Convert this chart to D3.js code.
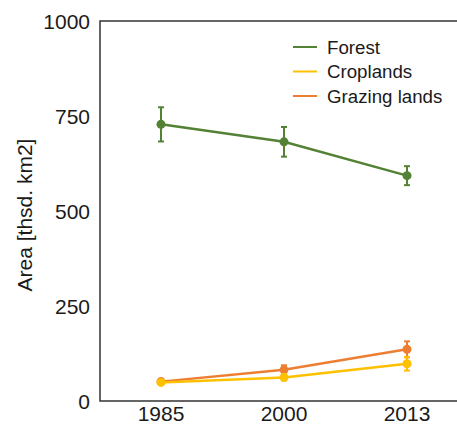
<!DOCTYPE html>
<html><head><meta charset="utf-8">
<script src="https://cdn.jsdelivr.net/npm/d3@7"></script>
<style>body{margin:0;background:#fff}svg{display:block}</style>
</head><body>
<script>
const years = ["1985", "2000", "2013"];
const seriesNames = ["Forest", "Croplands", "Grazing lands"];
const forest = [728, 682, 593];
const forestErr = [45, 39, 25];
const croplands = [49, 62, 98];
const croplandsErr = [4, 8, 18];
const grazing = [51, 82, 136];
const grazingErr = [4, 12, 21];
const yTicks = [0, 250, 500, 750, 1000];
const colors = ["#548235", "#FFC000", "#ED7D31"];

const W = 457, H = 425;
const svg = d3.select("body").append("svg").attr("width", W).attr("height", H);
const font = "Liberation Sans, Arial, sans-serif";

const x = d3.scalePoint().domain(years).range([161, 407]);
const y = d3.scaleLinear().domain([0, 1000]).range([401, 21]);

// frame (cropped on right)
svg.append("path")
  .attr("d", `M${W + 10},${y(1000)}H100V${y(0)}H${W + 10}`)
  .attr("fill", "none").attr("stroke", "#333").attr("stroke-width", 1.5);

// y tick labels
svg.append("g").selectAll("text").data(yTicks).join("text")
  .attr("x", 90).attr("y", d => y(d)).attr("dy", "0.36em")
  .attr("text-anchor", "end").attr("font-family", font).attr("font-size", 21)
  .attr("fill", "#1a1a1a").text(d => d);

// x tick labels
svg.append("g").selectAll("text").data(years).join("text")
  .attr("x", d => x(d)).attr("y", 421)
  .attr("text-anchor", "middle").attr("font-family", font).attr("font-size", 21)
  .attr("fill", "#1a1a1a").text(d => d);

// y axis title
svg.append("text")
  .attr("transform", `translate(32,${(y(0)+y(1000))/2 + 4}) rotate(-90)`)
  .attr("text-anchor", "middle").attr("font-family", font).attr("font-size", 21)
  .attr("fill", "#1a1a1a").text("Area [thsd. km2]");

const series = [
  {name: seriesNames[0], vals: forest, err: forestErr, color: colors[0]},
  {name: seriesNames[2], vals: grazing, err: grazingErr, color: colors[2]},
  {name: seriesNames[1], vals: croplands, err: croplandsErr, color: colors[1]}
];

const line = d3.line().x((d, i) => x(years[i])).y(d => y(d));

series.forEach(s => {
  const g = svg.append("g");
  s.vals.forEach((v, i) => {
    const cx = x(years[i]);
    const y1 = y(v + s.err[i]), y2 = y(v - s.err[i]);
    g.append("line").attr("x1", cx).attr("x2", cx).attr("y1", y1).attr("y2", y2)
      .attr("stroke", s.color).attr("stroke-width", 2);
    [y1, y2].forEach(yy => g.append("line").attr("x1", cx - 3).attr("x2", cx + 3)
      .attr("y1", yy).attr("y2", yy).attr("stroke", s.color).attr("stroke-width", 2));
  });
  g.append("path").attr("d", line(s.vals)).attr("fill", "none")
    .attr("stroke", s.color).attr("stroke-width", 2.5);
  g.selectAll("circle").data(s.vals).join("circle")
    .attr("cx", (d, i) => x(years[i])).attr("cy", d => y(d)).attr("r", 4.5)
    .attr("fill", s.color);
});

// legend
const leg = svg.append("g");
seriesNames.forEach((n, i) => {
  const ly = 47 + i * 24.5;
  leg.append("line").attr("x1", 293).attr("x2", 317).attr("y1", ly).attr("y2", ly)
    .attr("stroke", colors[i]).attr("stroke-width", 2);
  leg.append("text").attr("x", 327).attr("y", ly).attr("dy", "0.36em")
    .attr("font-family", font).attr("font-size", 18.7).attr("fill", "#1a1a1a").text(n);
});
</script>
</body></html>
